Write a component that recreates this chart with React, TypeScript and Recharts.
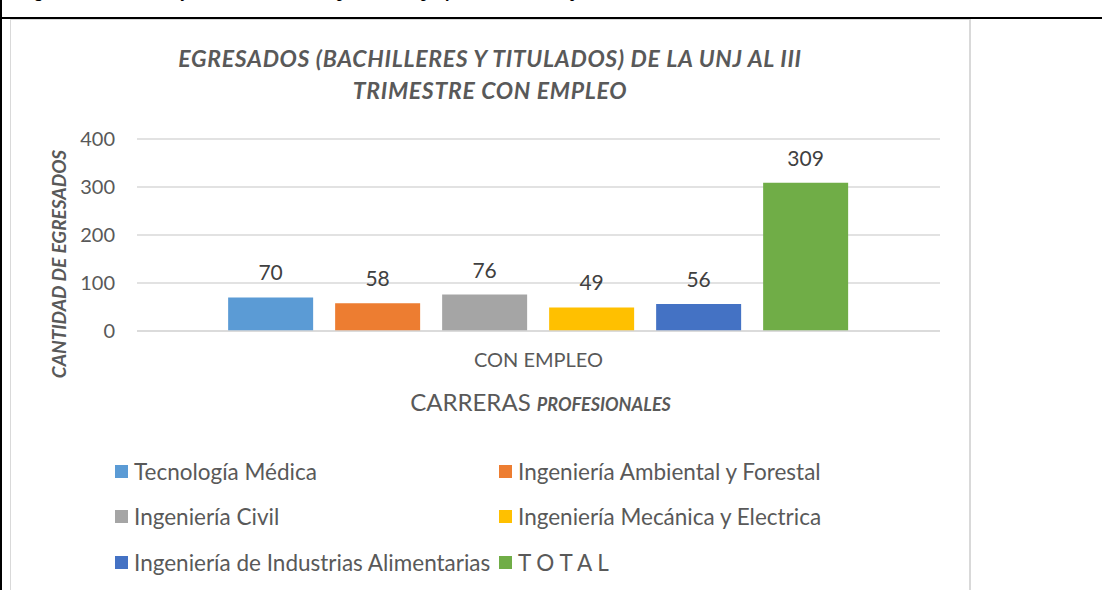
import React from "react";
import { BarChart, Bar, XAxis, YAxis, CartesianGrid, Legend, LabelList } from "recharts";

const categories = ["CON EMPLEO"];
const seriesNames = [
  "Tecnología Médica",
  "Ingeniería Ambiental y Forestal",
  "Ingeniería Civil",
  "Ingeniería Mecánica y Electrica",
  "Ingeniería de Industrias Alimentarias",
  "T O T A L",
];
const seriesValues = [70, 58, 76, 49, 56, 309];
const yTicks = [0, 100, 200, 300, 400];

const colors = ["#5B9BD5", "#ED7D31", "#A5A5A5", "#FFC000", "#4472C4", "#70AD47"];
const keys = seriesNames.map((_, i) => `s${i}`);

const data = categories.map((c) => {
  const row: any = { name: c };
  keys.forEach((k, i) => (row[k] = seriesValues[i]));
  return row;
});

const FONT = "Lato, 'Open Sans', sans-serif";
const GRAY = "#595959";

const YLabel = (props: any) => {
  const vb = props.viewBox || {};
  const cx = vb.x - 19;
  const cy = vb.y + vb.height / 2 + 29;
  return (
    <text
      x={cx}
      y={cy}
      transform={`rotate(-90 ${cx} ${cy})`}
      textAnchor="middle"
      dominantBaseline="central"
      fill={GRAY}
      fontFamily={FONT}
      fontSize={19}
      fontWeight={700}
      fontStyle="italic"
    >
      CANTIDAD DE EGRESADOS
    </text>
  );
};

const XLabel = (props: any) => {
  const vb = props.viewBox || {};
  const cx = vb.x + vb.width / 2 + 2;
  return (
    <text x={cx} y={411} textAnchor="middle" fill={GRAY} fontFamily={FONT}>
      <tspan fontSize={24}>CARRERAS </tspan>
      <tspan fontSize={18} fontWeight={700} fontStyle="italic">PROFESIONALES</tspan>
    </text>
  );
};

const LegendContent = (props: any) => {
  const payload = [...(props.payload || [])].sort(
    (a: any, b: any) => seriesNames.indexOf(a.value) - seriesNames.indexOf(b.value)
  );
  return (
    <div style={{ position: "relative", width: 1102, height: 130 }}>
      {payload.map((p: any, i: number) => {
        const col = i % 2;
        const row = Math.floor(i / 2);
        return (
          <div
            key={i}
            style={{
              position: "absolute",
              left: col === 0 ? 115 : 499,
              top: row * 45.5 + 8,
              height: 26,
              display: "flex",
              alignItems: "center",
              whiteSpace: "nowrap",
              fontFamily: FONT,
              fontSize: 22.5,
              color: GRAY,
            }}
          >
            <span style={{ display: "inline-block", width: 13, height: 13, background: p.color, marginRight: 6 }} />
            <span>{p.value}</span>
          </div>
        );
      })}
    </div>
  );
};

export default function App() {
  return (
    <div style={{ position: "absolute", left: 0, top: 0, width: 1102, height: 590, overflow: "hidden", background: "#fff" }}>
      <div
        style={{
          position: "absolute",
          left: 20,
          top: -18.5,
          whiteSpace: "nowrap",
          fontFamily: "'Liberation Serif', serif",
          fontWeight: 700,
          fontStyle: "italic",
          fontSize: 17,
          color: "#000",
        }}
      >
        Figura 12. Bachilleres y titulados de la UNJ, por carrera profesional con trabajo al III trimestre
      </div>
      <div style={{ position: "absolute", left: 0, top: 17, width: 1102, height: 2, background: "#000" }} />
      <div style={{ position: "absolute", left: 0, top: 0, width: 2, height: 590, background: "#000" }} />
      <div
        style={{
          position: "absolute",
          left: 10,
          top: 19,
          width: 958,
          height: 600,
          borderLeft: "1px solid #d9d9d9",
          borderTop: "1px solid #d9d9d9",
          borderRight: "2px solid #d9d9d9",
        }}
      />
      <div
        style={{
          position: "absolute",
          left: 10,
          top: 42,
          width: 960,
          textAlign: "center",
          fontFamily: FONT,
          fontWeight: 700,
          fontStyle: "italic",
          fontSize: 23,
          letterSpacing: 0.7,
          lineHeight: "32px",
          color: GRAY,
        }}
      >
        EGRESADOS (BACHILLERES Y TITULADOS) DE LA UNJ AL III
        <br />
        TRIMESTRE CON EMPLEO
      </div>
      <div style={{ position: "absolute", left: 0, top: 0 }}>
        <BarChart
          width={1102}
          height={590}
          data={data}
          margin={{ top: 139, right: 162, left: 77, bottom: 39 }}
          barCategoryGap="11.35%"
          barGap={22}
        >
          <CartesianGrid vertical={false} stroke="#d9d9d9" strokeWidth={1.3} />
          <XAxis
            dataKey="name"
            height={90}
            axisLine={{ stroke: "#d9d9d9", strokeWidth: 1.3 }}
            tickLine={false}
            tickMargin={16}
            tick={{ fill: GRAY, fontSize: 20, fontFamily: FONT }}
            label={<XLabel />}
          />
          <YAxis
            width={60}
            domain={[0, 400]}
            ticks={yTicks}
            axisLine={false}
            tickLine={false}
            tickMargin={16}
            tick={{ fill: GRAY, fontSize: 20, fontFamily: FONT }}
            label={<YLabel />}
          />
          <Legend
            verticalAlign="bottom"
            content={<LegendContent />}
            wrapperStyle={{ top: 450, left: 0, width: 1102, height: 130 }}
          />
          {keys.map((k, i) => (
            <Bar key={k} dataKey={k} name={seriesNames[i]} fill={colors[i]} isAnimationActive={false}>
              <LabelList dataKey={k} position="top" offset={17} fill="#404040" fontSize={21} fontFamily={FONT} />
            </Bar>
          ))}
        </BarChart>
      </div>
    </div>
  );
}
